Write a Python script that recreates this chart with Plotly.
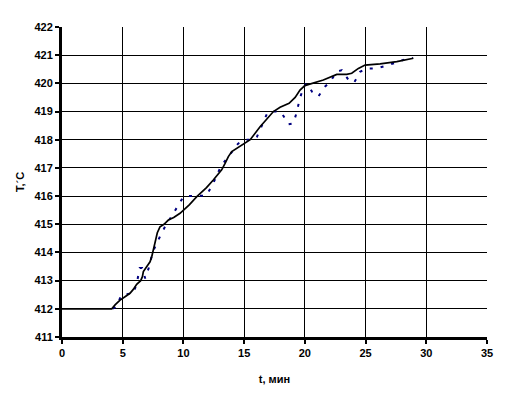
import plotly.graph_objects as go

# Smoothed (black) curve
t_smooth = [0, 4.1, 4.37, 4.78, 5.19, 5.6, 5.87, 6.15, 6.48, 6.62, 6.7, 6.97, 7.25, 7.39,
            7.52, 7.6, 7.7, 7.85, 8.07, 8.4, 8.76, 9.2, 9.72, 10.5, 11.1, 11.9, 12.46,
            13.15, 13.43, 13.7, 13.98, 14.39, 14.94, 15.5, 16.31, 17.41, 17.96, 18.7,
            19.2, 19.6, 20.0, 20.7, 21.52, 22.63, 23.45, 23.86, 24.41, 24.96, 26.2,
            27.57, 28.94]
T_smooth = [412, 412, 412.14, 412.31, 412.43, 412.55, 412.69, 412.87, 413.0, 413.14,
            413.32, 413.49, 413.67, 413.85, 414.09, 414.3, 414.5, 414.7, 414.91, 415.0,
            415.15, 415.24, 415.39, 415.7, 415.98, 416.3, 416.57, 416.93, 417.16, 417.4,
            417.58, 417.7, 417.85, 418.0, 418.46, 419.0, 419.15, 419.29, 419.5, 419.76,
            419.92, 420.0, 420.12, 420.32, 420.32, 420.36, 420.53, 420.65, 420.69,
            420.77, 420.89]

# Measured (blue dashed) series
t_meas = [4.2, 4.5, 4.9, 5.9, 6.2, 6.4, 6.6, 6.85, 7.2, 7.45, 8.05, 8.55, 9.05, 9.5,
          10.0, 10.3, 11.9, 12.45, 12.9, 13.1, 13.7, 14.5, 15.1, 15.8, 16.05, 16.45,
          16.9, 17.15, 17.95, 18.1, 18.65, 19.05, 19.35, 19.55, 19.9, 20.15, 20.6,
          21.1, 21.65, 22.1, 22.6, 23.05, 23.6, 24.05, 24.55, 25.05, 25.9, 26.9,
          28.5, 28.9]
T_meas = [412.0, 412.1, 412.5, 412.55, 413.0, 413.45, 413.45, 413.08, 413.52, 414.0,
          414.55, 414.97, 415.3, 415.62, 415.98, 416.0, 416.02, 416.45, 416.87, 417.07,
          417.4, 417.86, 418.0, 418.0, 418.1, 418.52, 418.94, 419.0, 419.0, 418.94,
          418.55, 418.58, 419.0, 419.41, 419.88, 420.0, 419.7, 419.53, 419.88, 420.06,
          420.41, 420.47, 420.12, 420.02, 420.41, 420.53, 420.53, 420.65, 420.89, 420.9]

x_ticks = [0, 5, 10, 15, 20, 25, 30, 35]
y_ticks = [411, 412, 413, 414, 415, 416, 417, 418, 419, 420, 421, 422]
x_grid = [5, 10, 15, 20, 25, 30]
y_grid = [412, 413, 414, 415, 416, 417, 418, 419, 420, 421]

font_b = dict(family="Arial, Liberation Sans, sans-serif", size=11, color="black")

fig = go.Figure()
# empty trace to activate grid axes
fig.add_trace(go.Scatter(x=[], y=[], xaxis="x2", yaxis="y2", showlegend=False))
fig.add_trace(go.Scatter(x=t_meas, y=T_meas, mode="lines",
                         line=dict(color="#000080", width=2, dash="3px,8px"),
                         showlegend=False))
fig.add_trace(go.Scatter(x=t_smooth, y=T_smooth, mode="lines",
                         line=dict(color="black", width=1.7),
                         showlegend=False))

fig.update_layout(
    width=508, height=409,
    margin=dict(l=54, r=29, t=19, b=80),
    paper_bgcolor="white", plot_bgcolor="white",
    font=font_b,
    xaxis=dict(range=[0, 35], tickvals=x_ticks, ticktext=[f"<b>{v}</b>" for v in x_ticks],
               showgrid=False, zeroline=False, showline=True, linecolor="black",
               linewidth=3, ticks="outside", ticklen=4, tickwidth=2, tickcolor="black",
               tickfont=font_b, automargin=False,
               title=dict(text="<b>t, мин</b>", font=font_b, standoff=18)),
    yaxis=dict(range=[411, 422], tickvals=y_ticks, ticktext=[f"<b>{v}</b>" for v in y_ticks],
               showgrid=False, zeroline=False, showline=True, linecolor="black",
               linewidth=3, ticks="outside", ticklen=4, tickwidth=2, tickcolor="black",
               tickfont=font_b, automargin=False,
               title=dict(text="<b>T,´C</b>", font=font_b, standoff=8)),
    xaxis2=dict(overlaying="x", range=[0, 35], tickvals=x_grid, showgrid=True,
                gridcolor="black", gridwidth=1, showticklabels=False, ticks="",
                zeroline=False, showline=False, automargin=False),
    yaxis2=dict(overlaying="y", range=[411, 422], tickvals=y_grid, showgrid=True,
                gridcolor="black", gridwidth=1, showticklabels=False, ticks="",
                zeroline=False, showline=False, automargin=False),
)

fig.write_html("out.html")
